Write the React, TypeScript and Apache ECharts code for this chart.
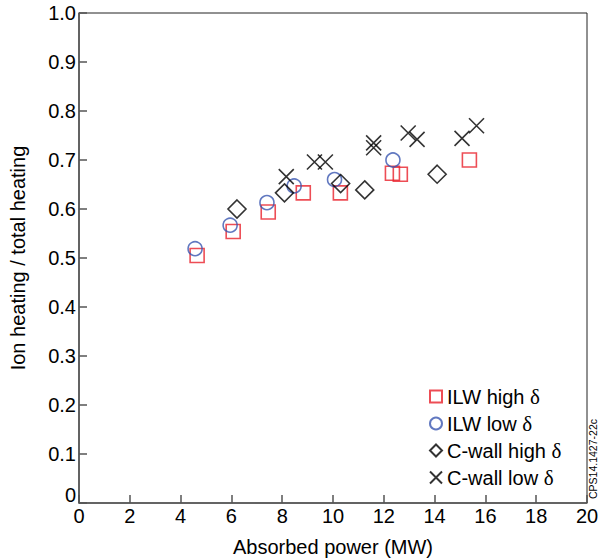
import React, { useEffect, useRef } from "react";
import * as echarts from "echarts";

const xTicks = [0, 2, 4, 6, 8, 10, 12, 14, 16, 18, 20];
const yTicks = [0, 0.1, 0.2, 0.3, 0.4, 0.5, 0.6, 0.7, 0.8, 0.9, 1.0];

const ilwHighX = [4.65, 6.07, 7.45, 8.83, 10.29, 12.34, 12.65, 15.37];
const ilwHighY = [0.505, 0.554, 0.594, 0.633, 0.633, 0.673, 0.671, 0.700];

const ilwLowX = [4.57, 5.95, 7.40, 8.47, 10.06, 12.36];
const ilwLowY = [0.519, 0.567, 0.613, 0.647, 0.660, 0.700];

const cHighX = [6.22, 8.09, 10.30, 11.25, 14.10];
const cHighY = [0.600, 0.633, 0.652, 0.639, 0.671];

const cLowX = [8.16, 9.27, 9.70, 11.60, 11.60, 12.96, 13.31, 15.08, 15.65];
const cLowY = [0.666, 0.696, 0.696, 0.735, 0.725, 0.755, 0.742, 0.744, 0.770];

const seriesNames = ["ILW high δ", "ILW low δ", "C-wall high δ", "C-wall low δ"];

const zip = (xs: number[], ys: number[]) => xs.map((x, i) => [x, ys[i]]);

const FONT = "'Liberation Sans', Arial, Helvetica, sans-serif";
const FS = 20;

export default function App() {
  const ref = useRef<HTMLDivElement>(null);
  useEffect(() => {
    if (!ref.current) return;
    const chart = echarts.init(ref.current, undefined, { renderer: "svg" });
    const cross = "path://M0,0L10,10M10,0L0,10";
    chart.setOption({
      animation: false,
      textStyle: { fontFamily: FONT },
      grid: {
        left: 79,
        right: 12,
        top: 13,
        bottom: 57,
        outerBoundsMode: "none",
        containLabel: false,
        show: true,
        borderColor: "#222",
        borderWidth: 1,
      },
      legend: {
        orient: "vertical",
        left: 424,
        top: 381,
        itemGap: 6,
        itemWidth: 12,
        itemHeight: 12,
        formatter: (name: string) => name.replace("δ", "{d|δ}"),
        textStyle: {
          fontFamily: FONT,
          fontSize: FS,
          color: "#000",
          rich: {
            d: { fontFamily: "'Liberation Serif', 'DejaVu Serif', serif", fontSize: 21, color: "#000" },
          },
        },
        data: seriesNames,
      },
      xAxis: {
        type: "value",
        min: xTicks[0],
        max: xTicks[xTicks.length - 1],
        interval: 2,
        name: "Absorbed power (MW)",
        nameLocation: "middle",
        nameGap: 34,
        nameTextStyle: { fontFamily: FONT, fontSize: FS, color: "#000" },
        axisLine: { lineStyle: { color: "#555", width: 1.5 } },
        axisTick: { inside: true, length: 8, lineStyle: { color: "#555", width: 1.5 } },
        axisLabel: { fontFamily: FONT, fontSize: FS, color: "#000", margin: 3 },
        splitLine: { show: false },
      },
      yAxis: {
        type: "value",
        min: yTicks[0],
        max: yTicks[yTicks.length - 1],
        interval: 0.1,
        name: "Ion heating / total heating",
        nameLocation: "middle",
        nameGap: 51,
        nameTextStyle: { fontFamily: FONT, fontSize: FS, color: "#000" },
        axisLine: { lineStyle: { color: "#555", width: 1.5 } },
        axisTick: { inside: true, length: 8, lineStyle: { color: "#555", width: 1.5 } },
        axisLabel: {
          fontFamily: FONT,
          fontSize: FS,
          color: "#000",
          margin: 3,
          formatter: (v: number) => (v === 0 ? "{z|0}" : v.toFixed(1)),
          rich: { z: { fontFamily: FONT, fontSize: FS, color: "#000", padding: [0, 0, 16, 0] } },
        },
        splitLine: { show: false },
      },
      series: [
        {
          name: seriesNames[0],
          type: "scatter",
          symbol: "rect",
          symbolSize: 14,
          itemStyle: { color: "transparent", borderColor: "#e8202a", borderWidth: 1.6 },
          data: zip(ilwHighX, ilwHighY),
          z: 2,
        },
        {
          name: seriesNames[1],
          type: "scatter",
          symbol: "circle",
          symbolSize: 14,
          itemStyle: { color: "transparent", borderColor: "#3a56b0", borderWidth: 1.6 },
          data: zip(ilwLowX, ilwLowY),
          z: 3,
        },
        {
          name: seriesNames[2],
          type: "scatter",
          symbol: "diamond",
          symbolSize: 18,
          itemStyle: { color: "transparent", borderColor: "#000", borderWidth: 1.6 },
          data: zip(cHighX, cHighY),
          z: 4,
        },
        {
          name: seriesNames[3],
          type: "scatter",
          symbol: cross,
          symbolSize: 15,
          itemStyle: { color: "#000", borderColor: "#000", borderWidth: 1.6 },
          data: zip(cLowX, cLowY),
          z: 5,
        },
      ],
      graphic: [
        {
          type: "text",
          x: 587,
          y: 499,
          rotation: Math.PI / 2,
          style: {
            text: "CPS14.1427-22c",
            fontFamily: FONT,
            fontSize: 10.5,
            fill: "#000",
            align: "left",
            verticalAlign: "top",
          },
        },
      ],
    });
    return () => chart.dispose();
  }, []);
  return (
    <div
      ref={ref}
      style={{ position: "absolute", left: 0, top: 0, width: 599, height: 560 }}
    />
  );
}
